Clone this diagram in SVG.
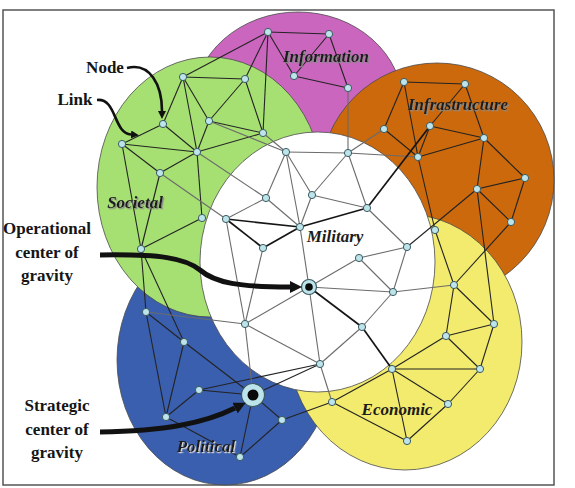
<svg xmlns="http://www.w3.org/2000/svg" width="575" height="488" viewBox="0 0 575 488">
<style>
.rg{stroke:#4a4a4a;stroke-width:0.8}
.e{stroke:#232323;stroke-width:1.1}
.w{stroke:#6b6b6b;stroke-width:1.1}
.k{stroke:#151515;stroke-width:1.7}
.n{fill:#bce4ea;stroke:#3b5a60;stroke-width:1}
.lbl{font-family:"Liberation Serif","Times New Roman",serif;font-weight:bold;font-style:italic;font-size:17px;fill:#1c1c1c;text-anchor:middle}
.ann{font-family:"Liberation Serif","Times New Roman",serif;font-weight:bold;font-size:17px;fill:#151515;text-anchor:middle}
.arr{fill:none;stroke:#111}
</style>
<defs>
<filter id="sh" x="-10%" y="-30%" width="120%" height="160%"><feDropShadow dx="1.3" dy="1.3" stdDeviation="0.4" flood-color="#8a8a8a"/></filter>
<filter id="shl" x="-10%" y="-30%" width="120%" height="160%"><feDropShadow dx="1.2" dy="1.2" stdDeviation="0.3" flood-color="#d8d8d8"/></filter>
<marker id="ah" viewBox="0 0 10 10" refX="0" refY="5" markerUnits="userSpaceOnUse" markerWidth="12" markerHeight="12" orient="auto"><path d="M0,0 L10,5 L0,10 z" fill="#111"/></marker>
<marker id="ahs" viewBox="0 0 10 10" refX="0" refY="5" markerUnits="userSpaceOnUse" markerWidth="8" markerHeight="8" orient="auto"><path d="M0,0 L10,5 L0,10 z" fill="#111"/></marker>
</defs>
<rect x="0" y="0" width="575" height="488" fill="#fff"/>
<rect x="3" y="10" width="551" height="475" fill="#fff" stroke="#555" stroke-width="1.5"/>
<g id="information"><ellipse class="rg" cx="298" cy="105" rx="105" ry="93" fill="#cb66bf"/></g>
<g id="infrastructure"><circle class="rg" cx="437" cy="180" r="117" fill="#cc690c"/></g>
<g id="political"><ellipse class="rg" cx="225" cy="360" rx="108" ry="125" fill="#3a5fae"/></g>
<g id="societal"><ellipse class="rg" cx="210" cy="187" rx="113" ry="130" fill="#a6e072"/></g>
<g id="economic"><ellipse class="rg" cx="405" cy="342" rx="117" ry="128" fill="#f2eb6e"/></g>
<g id="military"><ellipse class="rg" cx="317.5" cy="262" rx="117.5" ry="130" fill="#ffffff"/></g>
<g id="connectors">
<line class="e" x1="268" y1="32" x2="329" y2="34"/><line class="e" x1="268" y1="32" x2="294" y2="76"/><line class="e" x1="329" y1="34" x2="294" y2="76"/><line class="e" x1="329" y1="34" x2="348" y2="88"/><line class="e" x1="294" y1="76" x2="348" y2="88"/><line class="e" x1="183" y1="77" x2="268" y2="32"/><line class="e" x1="268" y1="32" x2="245" y2="79"/><line class="e" x1="268" y1="32" x2="263" y2="133"/>
<line class="e" x1="183" y1="77" x2="245" y2="79"/><line class="e" x1="183" y1="77" x2="163" y2="124"/><line class="e" x1="183" y1="77" x2="209" y2="121"/><line class="e" x1="183" y1="77" x2="197" y2="152"/><line class="e" x1="245" y1="79" x2="209" y2="121"/><line class="e" x1="245" y1="79" x2="263" y2="133"/><line class="e" x1="163" y1="124" x2="122" y2="144"/><line class="e" x1="163" y1="124" x2="197" y2="152"/><line class="e" x1="209" y1="121" x2="197" y2="152"/><line class="e" x1="209" y1="121" x2="263" y2="133"/><line class="e" x1="263" y1="133" x2="197" y2="152"/><line class="e" x1="122" y1="144" x2="197" y2="152"/><line class="e" x1="122" y1="144" x2="160" y2="173"/><line class="e" x1="122" y1="144" x2="141" y2="249"/><line class="e" x1="197" y1="152" x2="160" y2="173"/><line class="e" x1="197" y1="152" x2="202" y2="218"/><line class="e" x1="160" y1="173" x2="141" y2="249"/><line class="e" x1="202" y1="218" x2="141" y2="249"/><line class="e" x1="141" y1="249" x2="146" y2="312"/><line class="e" x1="141" y1="249" x2="184" y2="342"/>
<line class="e" x1="404" y1="82" x2="465" y2="84"/><line class="e" x1="404" y1="82" x2="384" y2="129"/><line class="e" x1="404" y1="82" x2="418" y2="157"/><line class="e" x1="465" y1="84" x2="430" y2="126"/><line class="e" x1="465" y1="84" x2="484" y2="138"/><line class="e" x1="384" y1="129" x2="418" y2="157"/><line class="e" x1="430" y1="126" x2="484" y2="138"/><line class="e" x1="430" y1="126" x2="418" y2="157"/><line class="e" x1="418" y1="157" x2="484" y2="138"/><line class="e" x1="484" y1="138" x2="525" y2="178"/><line class="e" x1="484" y1="138" x2="477" y2="189"/><line class="e" x1="525" y1="178" x2="477" y2="189"/><line class="e" x1="525" y1="178" x2="511" y2="222"/><line class="e" x1="477" y1="189" x2="511" y2="222"/><line class="e" x1="477" y1="189" x2="494" y2="324"/><line class="e" x1="511" y1="222" x2="454" y2="285"/><line class="e" x1="477" y1="189" x2="407" y2="247"/><line class="e" x1="418" y1="157" x2="435" y2="230"/>
<line class="e" x1="435" y1="230" x2="454" y2="285"/><line class="e" x1="454" y1="285" x2="494" y2="324"/><line class="e" x1="454" y1="285" x2="446" y2="336"/><line class="e" x1="494" y1="324" x2="446" y2="336"/><line class="e" x1="494" y1="324" x2="480" y2="369"/><line class="e" x1="446" y1="336" x2="480" y2="369"/><line class="e" x1="446" y1="336" x2="392" y2="369"/><line class="e" x1="480" y1="369" x2="392" y2="369"/><line class="e" x1="392" y1="369" x2="332" y2="402"/><line class="e" x1="392" y1="369" x2="448" y2="404"/><line class="e" x1="392" y1="369" x2="407" y2="441"/><line class="e" x1="480" y1="369" x2="448" y2="404"/><line class="e" x1="448" y1="404" x2="407" y2="441"/><line class="e" x1="332" y1="402" x2="407" y2="441"/><line class="e" x1="332" y1="402" x2="282" y2="420"/>
<line class="e" x1="146" y1="312" x2="184" y2="342"/><line class="e" x1="146" y1="312" x2="166" y2="417"/><line class="e" x1="184" y1="342" x2="166" y2="417"/><line class="e" x1="184" y1="342" x2="253" y2="395"/><line class="e" x1="199" y1="390" x2="166" y2="417"/><line class="e" x1="199" y1="390" x2="253" y2="395"/><line class="e" x1="253" y1="395" x2="282" y2="420"/><line class="e" x1="253" y1="395" x2="240" y2="457"/><line class="e" x1="166" y1="417" x2="240" y2="457"/><line class="e" x1="282" y1="420" x2="240" y2="457"/><line class="e" x1="199" y1="390" x2="320" y2="364"/><line class="e" x1="253" y1="395" x2="320" y2="364"/>
<line class="w" x1="209" y1="121" x2="286" y2="152"/><line class="w" x1="263" y1="133" x2="286" y2="152"/><line class="w" x1="197" y1="152" x2="266" y2="198"/><line class="w" x1="160" y1="173" x2="226" y2="219"/><line class="w" x1="348" y1="88" x2="348" y2="153"/><line class="w" x1="384" y1="129" x2="348" y2="153"/><line class="w" x1="418" y1="157" x2="348" y2="153"/><line class="w" x1="146" y1="312" x2="245" y2="324"/><line class="w" x1="320" y1="364" x2="332" y2="402"/><line class="w" x1="393" y1="292" x2="454" y2="285"/><line class="w" x1="253" y1="395" x2="245" y2="324"/>
<line class="w" x1="286" y1="152" x2="348" y2="153"/><line class="w" x1="286" y1="152" x2="266" y2="198"/><line class="w" x1="286" y1="152" x2="312" y2="195"/><line class="w" x1="286" y1="152" x2="300" y2="227"/><line class="w" x1="348" y1="153" x2="312" y2="195"/><line class="w" x1="348" y1="153" x2="367" y2="208"/><line class="w" x1="266" y1="198" x2="226" y2="219"/><line class="w" x1="266" y1="198" x2="300" y2="227"/><line class="w" x1="312" y1="195" x2="300" y2="227"/><line class="w" x1="312" y1="195" x2="367" y2="208"/><line class="w" x1="367" y1="208" x2="407" y2="247"/><line class="w" x1="359" y1="258" x2="407" y2="247"/><line class="w" x1="359" y1="258" x2="309" y2="287"/><line class="w" x1="407" y1="247" x2="393" y2="292"/><line class="w" x1="359" y1="258" x2="393" y2="292"/><line class="w" x1="309" y1="287" x2="393" y2="292"/><line class="w" x1="393" y1="292" x2="362" y2="327"/><line class="w" x1="362" y1="327" x2="320" y2="364"/><line class="w" x1="226" y1="219" x2="245" y2="324"/><line class="w" x1="263" y1="248" x2="245" y2="324"/><line class="w" x1="245" y1="324" x2="320" y2="364"/><line class="w" x1="309" y1="287" x2="245" y2="324"/><line class="w" x1="309" y1="287" x2="320" y2="364"/><line class="w" x1="300" y1="227" x2="309" y2="287"/>
<line class="k" x1="226" y1="219" x2="300" y2="227"/><line class="k" x1="226" y1="219" x2="263" y2="248"/><line class="k" x1="263" y1="248" x2="300" y2="227"/><line class="k" x1="300" y1="227" x2="367" y2="208"/><line class="k" x1="309" y1="287" x2="362" y2="327"/><line class="k" x1="362" y1="327" x2="392" y2="369"/><line class="k" x1="430" y1="126" x2="367" y2="208"/>
</g>
<g id="n-I1"><circle class="n" cx="268" cy="32" r="3.6"/></g>
<g id="n-I2"><circle class="n" cx="329" cy="34" r="3.6"/></g>
<g id="n-I3"><circle class="n" cx="294" cy="76" r="3.6"/></g>
<g id="n-I4"><circle class="n" cx="348" cy="88" r="3.6"/></g>
<g id="n-G1"><circle class="n" cx="183" cy="77" r="3.6"/></g>
<g id="n-G2"><circle class="n" cx="245" cy="79" r="3.6"/></g>
<g id="n-G3"><circle class="n" cx="163" cy="124" r="3.6"/></g>
<g id="n-G4"><circle class="n" cx="209" cy="121" r="3.6"/></g>
<g id="n-G5"><circle class="n" cx="263" cy="133" r="3.6"/></g>
<g id="n-G6"><circle class="n" cx="122" cy="144" r="3.6"/></g>
<g id="n-G7"><circle class="n" cx="197" cy="152" r="3.6"/></g>
<g id="n-G8"><circle class="n" cx="160" cy="173" r="3.6"/></g>
<g id="n-G9"><circle class="n" cx="202" cy="218" r="3.6"/></g>
<g id="n-G10"><circle class="n" cx="141" cy="249" r="3.6"/></g>
<g id="n-O1"><circle class="n" cx="404" cy="82" r="3.6"/></g>
<g id="n-O2"><circle class="n" cx="465" cy="84" r="3.6"/></g>
<g id="n-O3"><circle class="n" cx="384" cy="129" r="3.6"/></g>
<g id="n-O4"><circle class="n" cx="430" cy="126" r="3.6"/></g>
<g id="n-O5"><circle class="n" cx="484" cy="138" r="3.6"/></g>
<g id="n-O6"><circle class="n" cx="418" cy="157" r="3.6"/></g>
<g id="n-O7"><circle class="n" cx="525" cy="178" r="3.6"/></g>
<g id="n-O8"><circle class="n" cx="477" cy="189" r="3.6"/></g>
<g id="n-O9"><circle class="n" cx="511" cy="222" r="3.6"/></g>
<g id="n-Y1"><circle class="n" cx="435" cy="230" r="3.6"/></g>
<g id="n-Y2"><circle class="n" cx="454" cy="285" r="3.6"/></g>
<g id="n-Y3"><circle class="n" cx="494" cy="324" r="3.6"/></g>
<g id="n-Y4"><circle class="n" cx="446" cy="336" r="3.6"/></g>
<g id="n-Y5"><circle class="n" cx="480" cy="369" r="3.6"/></g>
<g id="n-Y6"><circle class="n" cx="392" cy="369" r="3.6"/></g>
<g id="n-Y7"><circle class="n" cx="332" cy="402" r="3.6"/></g>
<g id="n-Y8"><circle class="n" cx="448" cy="404" r="3.6"/></g>
<g id="n-Y9"><circle class="n" cx="407" cy="441" r="3.6"/></g>
<g id="n-B1"><circle class="n" cx="146" cy="312" r="3.6"/></g>
<g id="n-B2"><circle class="n" cx="184" cy="342" r="3.6"/></g>
<g id="n-B3"><circle class="n" cx="199" cy="390" r="3.6"/></g>
<g id="n-B4"><circle class="n" cx="166" cy="417" r="3.6"/></g>
<g id="n-B5"><circle class="n" cx="282" cy="420" r="3.6"/></g>
<g id="n-B6"><circle class="n" cx="240" cy="457" r="3.6"/></g>
<g id="n-strategic"><circle cx="253" cy="395" r="11.5" fill="#bce4ea" stroke="#3b5a60" stroke-width="1.2"/><circle cx="253" cy="395" r="5.5" fill="#0a0a0a"/></g>
<g id="n-W1"><circle class="n" cx="286" cy="152" r="3.6"/></g>
<g id="n-W2"><circle class="n" cx="348" cy="153" r="3.6"/></g>
<g id="n-W3"><circle class="n" cx="266" cy="198" r="3.6"/></g>
<g id="n-W4"><circle class="n" cx="312" cy="195" r="3.6"/></g>
<g id="n-W5"><circle class="n" cx="367" cy="208" r="3.6"/></g>
<g id="n-W6"><circle class="n" cx="226" cy="219" r="3.6"/></g>
<g id="n-W7"><circle class="n" cx="300" cy="227" r="3.6"/></g>
<g id="n-W8"><circle class="n" cx="263" cy="248" r="3.6"/></g>
<g id="n-W9"><circle class="n" cx="359" cy="258" r="3.6"/></g>
<g id="n-W10"><circle class="n" cx="407" cy="247" r="3.6"/></g>
<g id="n-W11"><circle class="n" cx="393" cy="292" r="3.6"/></g>
<g id="n-W12"><circle class="n" cx="362" cy="327" r="3.6"/></g>
<g id="n-W13"><circle class="n" cx="320" cy="364" r="3.6"/></g>
<g id="n-W14"><circle class="n" cx="245" cy="324" r="3.6"/></g>
<g id="n-operational"><circle cx="309" cy="287" r="7.5" fill="#bce4ea" stroke="#3b5a60" stroke-width="1.2"/><circle cx="309" cy="287" r="3.8" fill="#0a0a0a"/></g>
<g id="labels">
<text class="lbl" x="326" y="62" filter="url(#sh)">Information</text>
<text class="lbl" x="458" y="110" filter="url(#sh)">Infrastructure</text>
<text class="lbl" x="135" y="208" filter="url(#sh)">Societal</text>
<text class="lbl" x="335" y="242">Military</text>
<text class="lbl" x="397" y="415">Economic</text>
<text class="lbl" x="206" y="452" fill="#2a2a2a" filter="url(#shl)">Political</text>
<text class="ann" x="105" y="73" font-size="15">Node</text>
<text class="ann" x="75" y="105" font-size="15">Link</text>
<text class="ann" x="47" y="234">Operational</text>
<text class="ann" x="47" y="258">center of</text>
<text class="ann" x="47" y="281">gravity</text>
<text class="ann" x="57" y="411">Strategic</text>
<text class="ann" x="57" y="435">center of</text>
<text class="ann" x="57" y="458">gravity</text>
</g>
<g id="arrows">
<path class="arr" d="M127,68 C150,62 162,85 162,111" stroke-width="2.6" marker-end="url(#ahs)"/>
<path class="arr" d="M97,100 C117,98 113,133 131,134.5" stroke-width="2.6" marker-end="url(#ahs)"/>
<path class="arr" d="M100,255 C160,254 185,258 200,270 C215,283 240,287 290,287" stroke-width="5" marker-end="url(#ah)"/>
<path class="arr" d="M100,432 C165,431 205,423 235,408" stroke-width="5" marker-end="url(#ah)"/>
</g>
</svg>
